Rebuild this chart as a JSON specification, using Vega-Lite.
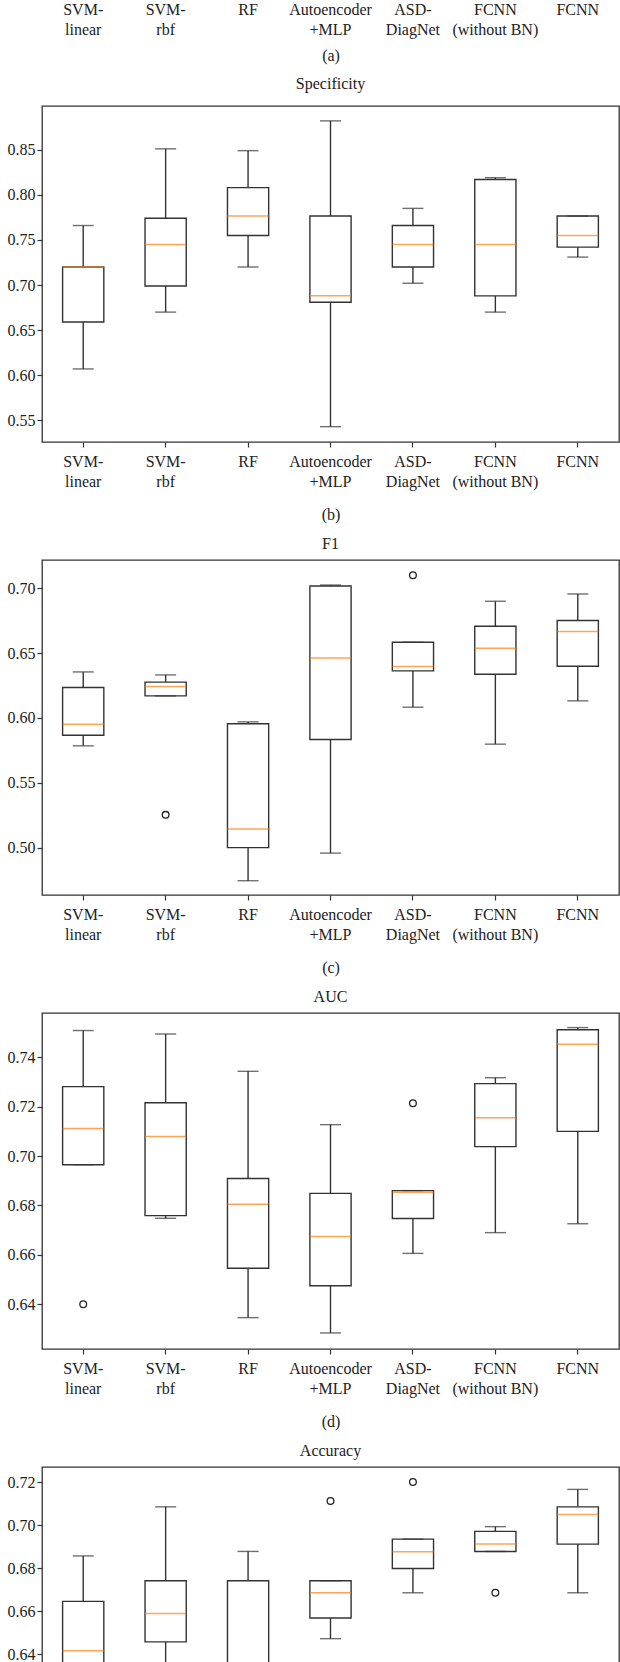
{
  "$schema": "https://vega.github.io/schema/vega-lite/v6.json",
  "padding": {"left": 6, "top": 0, "right": 0, "bottom": 0},
  "background": "white",
  "datasets": {
    "boxes": [
      {"metric": "Specificity", "method": "SVM-linear", "lower": 0.607, "q1": 0.659, "median": 0.720, "q3": 0.720, "upper": 0.766},
      {"metric": "Specificity", "method": "SVM-rbf", "lower": 0.670, "q1": 0.699, "median": 0.745, "q3": 0.774, "upper": 0.851},
      {"metric": "Specificity", "method": "RF", "lower": 0.720, "q1": 0.755, "median": 0.7765, "q3": 0.808, "upper": 0.849},
      {"metric": "Specificity", "method": "Autoencoder+MLP", "lower": 0.543, "q1": 0.681, "median": 0.688, "q3": 0.7765, "upper": 0.882},
      {"metric": "Specificity", "method": "ASD-DiagNet", "lower": 0.702, "q1": 0.720, "median": 0.745, "q3": 0.766, "upper": 0.785},
      {"metric": "Specificity", "method": "FCNN (without BN)", "lower": 0.670, "q1": 0.688, "median": 0.745, "q3": 0.817, "upper": 0.819},
      {"metric": "Specificity", "method": "FCNN", "lower": 0.731, "q1": 0.742, "median": 0.755, "q3": 0.7765, "upper": 0.7765},
      {"metric": "F1", "method": "SVM-linear", "lower": 0.5785, "q1": 0.5867, "median": 0.5952, "q3": 0.6235, "upper": 0.6355},
      {"metric": "F1", "method": "SVM-rbf", "lower": 0.617, "q1": 0.617, "median": 0.6243, "q3": 0.6276, "upper": 0.6332},
      {"metric": "F1", "method": "RF", "lower": 0.4745, "q1": 0.500, "median": 0.5143, "q3": 0.5955, "upper": 0.597},
      {"metric": "F1", "method": "Autoencoder+MLP", "lower": 0.4958, "q1": 0.5834, "median": 0.6463, "q3": 0.7018, "upper": 0.7025},
      {"metric": "F1", "method": "ASD-DiagNet", "lower": 0.6083, "q1": 0.6363, "median": 0.6397, "q3": 0.6584, "upper": 0.6584},
      {"metric": "F1", "method": "FCNN (without BN)", "lower": 0.5798, "q1": 0.6337, "median": 0.6538, "q3": 0.6707, "upper": 0.690},
      {"metric": "F1", "method": "FCNN", "lower": 0.6132, "q1": 0.6399, "median": 0.6666, "q3": 0.6751, "upper": 0.6956},
      {"metric": "AUC", "method": "SVM-linear", "lower": 0.6965, "q1": 0.6965, "median": 0.7111, "q3": 0.7281, "upper": 0.7508},
      {"metric": "AUC", "method": "SVM-rbf", "lower": 0.6748, "q1": 0.6759, "median": 0.7079, "q3": 0.7216, "upper": 0.7494},
      {"metric": "AUC", "method": "RF", "lower": 0.6346, "q1": 0.6546, "median": 0.6805, "q3": 0.6909, "upper": 0.7343},
      {"metric": "AUC", "method": "Autoencoder+MLP", "lower": 0.6284, "q1": 0.6475, "median": 0.6674, "q3": 0.6849, "upper": 0.7127},
      {"metric": "AUC", "method": "ASD-DiagNet", "lower": 0.6606, "q1": 0.6747, "median": 0.6853, "q3": 0.6860, "upper": 0.6860},
      {"metric": "AUC", "method": "FCNN (without BN)", "lower": 0.669, "q1": 0.7038, "median": 0.7155, "q3": 0.7293, "upper": 0.7317},
      {"metric": "AUC", "method": "FCNN", "lower": 0.6726, "q1": 0.710, "median": 0.7453, "q3": 0.7511, "upper": 0.752},
      {"metric": "Accuracy", "method": "SVM-linear", "lower": 0.604, "q1": 0.625, "median": 0.6417, "q3": 0.6646, "upper": 0.6857},
      {"metric": "Accuracy", "method": "SVM-rbf", "lower": 0.622, "q1": 0.6458, "median": 0.659, "q3": 0.6742, "upper": 0.7085},
      {"metric": "Accuracy", "method": "RF", "lower": 0.578, "q1": 0.615, "median": 0.633, "q3": 0.6742, "upper": 0.6878},
      {"metric": "Accuracy", "method": "Autoencoder+MLP", "lower": 0.6473, "q1": 0.6569, "median": 0.6686, "q3": 0.6742, "upper": 0.6742},
      {"metric": "Accuracy", "method": "ASD-DiagNet", "lower": 0.6686, "q1": 0.6799, "median": 0.6877, "q3": 0.6935, "upper": 0.6935},
      {"metric": "Accuracy", "method": "FCNN (without BN)", "lower": 0.6878, "q1": 0.6878, "median": 0.6912, "q3": 0.6971, "upper": 0.6993},
      {"metric": "Accuracy", "method": "FCNN", "lower": 0.6686, "q1": 0.6912, "median": 0.705, "q3": 0.7085, "upper": 0.7166}
    ],
    "outliers": [
      {"metric": "F1", "method": "SVM-rbf", "value": 0.5253},
      {"metric": "F1", "method": "ASD-DiagNet", "value": 0.710},
      {"metric": "AUC", "method": "SVM-linear", "value": 0.640},
      {"metric": "AUC", "method": "ASD-DiagNet", "value": 0.7214},
      {"metric": "Accuracy", "method": "Autoencoder+MLP", "value": 0.7112},
      {"metric": "Accuracy", "method": "ASD-DiagNet", "value": 0.720},
      {"metric": "Accuracy", "method": "FCNN (without BN)", "value": 0.6686}
    ]
  },
  "vconcat": [
    {
      "width": 577, "height": 1,
      "view": {"stroke": null},
      "data": {"name": "boxes"},
      "transform": [{"filter": "datum.metric == 'Specificity'"}],
      "mark": {"type": "tick", "opacity": 0},
      "encoding": {
        "x": {"field": "method", "type": "nominal",
          "scale": {"type": "band", "domain": ["SVM-linear", "SVM-rbf", "RF", "Autoencoder+MLP", "ASD-DiagNet", "FCNN (without BN)", "FCNN"], "paddingInner": 0, "paddingOuter": 0},
          "axis": {"title": "(a)", "titlePadding": 10, "ticks": false, "labelPadding": 0,
            "labelExpr": "datum.value=='SVM-linear'?['SVM-','linear']:datum.value=='SVM-rbf'?['SVM-','rbf']:datum.value=='Autoencoder+MLP'?['Autoencoder','+MLP']:datum.value=='ASD-DiagNet'?['ASD-','DiagNet']:datum.value=='FCNN (without BN)'?['FCNN','(without BN)']:datum.value"}}
      }
    },
    {
      "title": {"text": "Specificity", "offset": 14},
      "width": 577, "height": 336,
      "data": {"name": "boxes"},
      "transform": [{"filter": "datum.metric == 'Specificity'"}],
      "encoding": {
        "x": {"field": "method", "type": "nominal",
          "scale": {"type": "band", "domain": ["SVM-linear", "SVM-rbf", "RF", "Autoencoder+MLP", "ASD-DiagNet", "FCNN (without BN)", "FCNN"], "paddingInner": 0, "paddingOuter": 0},
          "axis": {"title": "(b)",
            "labelExpr": "datum.value=='SVM-linear'?['SVM-','linear']:datum.value=='SVM-rbf'?['SVM-','rbf']:datum.value=='Autoencoder+MLP'?['Autoencoder','+MLP']:datum.value=='ASD-DiagNet'?['ASD-','DiagNet']:datum.value=='FCNN (without BN)'?['FCNN','(without BN)']:datum.value"}}
      },
      "layer": [
        {"mark": {"type": "rule", "color": "#333", "strokeWidth": 1.4},
         "encoding": {"y": {"field": "lower", "type": "quantitative", "scale": {"domain": [0.526, 0.8985], "nice": false, "zero": false}, "axis": {"title": null, "values": [0.55, 0.6, 0.65, 0.7, 0.75, 0.8, 0.85], "format": ".2f"}}, "y2": {"field": "q1"}}},
        {"mark": {"type": "rule", "color": "#333", "strokeWidth": 1.4},
         "encoding": {"y": {"field": "q3", "type": "quantitative", "scale": {"domain": [0.526, 0.8985], "nice": false, "zero": false}, "axis": {"title": null, "values": [0.55, 0.6, 0.65, 0.7, 0.75, 0.8, 0.85], "format": ".2f"}}, "y2": {"field": "upper"}}},
        {"mark": {"type": "bar", "fill": "white", "stroke": "#333", "strokeWidth": 1.4, "width": {"band": 0.5}},
         "encoding": {"y": {"field": "q1", "type": "quantitative", "scale": {"domain": [0.526, 0.8985], "nice": false, "zero": false}, "axis": {"title": null, "values": [0.55, 0.6, 0.65, 0.7, 0.75, 0.8, 0.85], "format": ".2f"}}, "y2": {"field": "q3"}}},
        {"mark": {"type": "tick", "color": "#333", "size": 21, "thickness": 1.4},
         "encoding": {"y": {"field": "lower", "type": "quantitative", "scale": {"domain": [0.526, 0.8985], "nice": false, "zero": false}, "axis": {"title": null, "values": [0.55, 0.6, 0.65, 0.7, 0.75, 0.8, 0.85], "format": ".2f"}}}},
        {"mark": {"type": "tick", "color": "#333", "size": 21, "thickness": 1.4},
         "encoding": {"y": {"field": "upper", "type": "quantitative", "scale": {"domain": [0.526, 0.8985], "nice": false, "zero": false}, "axis": {"title": null, "values": [0.55, 0.6, 0.65, 0.7, 0.75, 0.8, 0.85], "format": ".2f"}}}},
        {"mark": {"type": "tick", "color": "#ff7f0e", "size": 41, "thickness": 1.5},
         "encoding": {"y": {"field": "median", "type": "quantitative", "scale": {"domain": [0.526, 0.8985], "nice": false, "zero": false}, "axis": {"title": null, "values": [0.55, 0.6, 0.65, 0.7, 0.75, 0.8, 0.85], "format": ".2f"}}}}
      ]
    },
    {
      "title": "F1",
      "width": 577, "height": 335,
      "data": {"name": "boxes"},
      "transform": [{"filter": "datum.metric == 'F1'"}],
      "encoding": {
        "x": {"field": "method", "type": "nominal",
          "scale": {"type": "band", "domain": ["SVM-linear", "SVM-rbf", "RF", "Autoencoder+MLP", "ASD-DiagNet", "FCNN (without BN)", "FCNN"], "paddingInner": 0, "paddingOuter": 0},
          "axis": {"title": "(c)",
            "labelExpr": "datum.value=='SVM-linear'?['SVM-','linear']:datum.value=='SVM-rbf'?['SVM-','rbf']:datum.value=='Autoencoder+MLP'?['Autoencoder','+MLP']:datum.value=='ASD-DiagNet'?['ASD-','DiagNet']:datum.value=='FCNN (without BN)'?['FCNN','(without BN)']:datum.value"}}
      },
      "layer": [
        {"mark": {"type": "rule", "color": "#333", "strokeWidth": 1.4},
         "encoding": {"y": {"field": "lower", "type": "quantitative", "scale": {"domain": [0.4635, 0.7218], "nice": false, "zero": false}, "axis": {"title": null, "values": [0.5, 0.55, 0.6, 0.65, 0.7], "format": ".2f"}}, "y2": {"field": "q1"}}},
        {"mark": {"type": "rule", "color": "#333", "strokeWidth": 1.4},
         "encoding": {"y": {"field": "q3", "type": "quantitative", "scale": {"domain": [0.4635, 0.7218], "nice": false, "zero": false}, "axis": {"title": null, "values": [0.5, 0.55, 0.6, 0.65, 0.7], "format": ".2f"}}, "y2": {"field": "upper"}}},
        {"mark": {"type": "bar", "fill": "white", "stroke": "#333", "strokeWidth": 1.4, "width": {"band": 0.5}},
         "encoding": {"y": {"field": "q1", "type": "quantitative", "scale": {"domain": [0.4635, 0.7218], "nice": false, "zero": false}, "axis": {"title": null, "values": [0.5, 0.55, 0.6, 0.65, 0.7], "format": ".2f"}}, "y2": {"field": "q3"}}},
        {"mark": {"type": "tick", "color": "#333", "size": 21, "thickness": 1.4},
         "encoding": {"y": {"field": "lower", "type": "quantitative", "scale": {"domain": [0.4635, 0.7218], "nice": false, "zero": false}, "axis": {"title": null, "values": [0.5, 0.55, 0.6, 0.65, 0.7], "format": ".2f"}}}},
        {"mark": {"type": "tick", "color": "#333", "size": 21, "thickness": 1.4},
         "encoding": {"y": {"field": "upper", "type": "quantitative", "scale": {"domain": [0.4635, 0.7218], "nice": false, "zero": false}, "axis": {"title": null, "values": [0.5, 0.55, 0.6, 0.65, 0.7], "format": ".2f"}}}},
        {"mark": {"type": "tick", "color": "#ff7f0e", "size": 41, "thickness": 1.5},
         "encoding": {"y": {"field": "median", "type": "quantitative", "scale": {"domain": [0.4635, 0.7218], "nice": false, "zero": false}, "axis": {"title": null, "values": [0.5, 0.55, 0.6, 0.65, 0.7], "format": ".2f"}}}},
        {"data": {"name": "outliers"},
         "transform": [{"filter": "datum.metric == 'F1'"}],
         "mark": {"type": "point", "shape": "circle", "filled": false, "size": 45, "color": "#222", "strokeWidth": 1.3, "opacity": 1},
         "encoding": {"y": {"field": "value", "type": "quantitative", "scale": {"domain": [0.4635, 0.7218], "nice": false, "zero": false}, "axis": {"title": null, "values": [0.5, 0.55, 0.6, 0.65, 0.7], "format": ".2f"}}}}
      ]
    },
    {
      "title": "AUC",
      "width": 577, "height": 336,
      "data": {"name": "boxes"},
      "transform": [{"filter": "datum.metric == 'AUC'"}],
      "encoding": {
        "x": {"field": "method", "type": "nominal",
          "scale": {"type": "band", "domain": ["SVM-linear", "SVM-rbf", "RF", "Autoencoder+MLP", "ASD-DiagNet", "FCNN (without BN)", "FCNN"], "paddingInner": 0, "paddingOuter": 0},
          "axis": {"title": "(d)",
            "labelExpr": "datum.value=='SVM-linear'?['SVM-','linear']:datum.value=='SVM-rbf'?['SVM-','rbf']:datum.value=='Autoencoder+MLP'?['Autoencoder','+MLP']:datum.value=='ASD-DiagNet'?['ASD-','DiagNet']:datum.value=='FCNN (without BN)'?['FCNN','(without BN)']:datum.value"}}
      },
      "layer": [
        {"mark": {"type": "rule", "color": "#333", "strokeWidth": 1.4},
         "encoding": {"y": {"field": "lower", "type": "quantitative", "scale": {"domain": [0.6219, 0.7579], "nice": false, "zero": false}, "axis": {"title": null, "values": [0.64, 0.66, 0.68, 0.7, 0.72, 0.74], "format": ".2f"}}, "y2": {"field": "q1"}}},
        {"mark": {"type": "rule", "color": "#333", "strokeWidth": 1.4},
         "encoding": {"y": {"field": "q3", "type": "quantitative", "scale": {"domain": [0.6219, 0.7579], "nice": false, "zero": false}, "axis": {"title": null, "values": [0.64, 0.66, 0.68, 0.7, 0.72, 0.74], "format": ".2f"}}, "y2": {"field": "upper"}}},
        {"mark": {"type": "bar", "fill": "white", "stroke": "#333", "strokeWidth": 1.4, "width": {"band": 0.5}},
         "encoding": {"y": {"field": "q1", "type": "quantitative", "scale": {"domain": [0.6219, 0.7579], "nice": false, "zero": false}, "axis": {"title": null, "values": [0.64, 0.66, 0.68, 0.7, 0.72, 0.74], "format": ".2f"}}, "y2": {"field": "q3"}}},
        {"mark": {"type": "tick", "color": "#333", "size": 21, "thickness": 1.4},
         "encoding": {"y": {"field": "lower", "type": "quantitative", "scale": {"domain": [0.6219, 0.7579], "nice": false, "zero": false}, "axis": {"title": null, "values": [0.64, 0.66, 0.68, 0.7, 0.72, 0.74], "format": ".2f"}}}},
        {"mark": {"type": "tick", "color": "#333", "size": 21, "thickness": 1.4},
         "encoding": {"y": {"field": "upper", "type": "quantitative", "scale": {"domain": [0.6219, 0.7579], "nice": false, "zero": false}, "axis": {"title": null, "values": [0.64, 0.66, 0.68, 0.7, 0.72, 0.74], "format": ".2f"}}}},
        {"mark": {"type": "tick", "color": "#ff7f0e", "size": 41, "thickness": 1.5},
         "encoding": {"y": {"field": "median", "type": "quantitative", "scale": {"domain": [0.6219, 0.7579], "nice": false, "zero": false}, "axis": {"title": null, "values": [0.64, 0.66, 0.68, 0.7, 0.72, 0.74], "format": ".2f"}}}},
        {"data": {"name": "outliers"},
         "transform": [{"filter": "datum.metric == 'AUC'"}],
         "mark": {"type": "point", "shape": "circle", "filled": false, "size": 45, "color": "#222", "strokeWidth": 1.3, "opacity": 1},
         "encoding": {"y": {"field": "value", "type": "quantitative", "scale": {"domain": [0.6219, 0.7579], "nice": false, "zero": false}, "axis": {"title": null, "values": [0.64, 0.66, 0.68, 0.7, 0.72, 0.74], "format": ".2f"}}}}
      ]
    },
    {
      "title": "Accuracy",
      "width": 577, "height": 336,
      "data": {"name": "boxes"},
      "transform": [{"filter": "datum.metric == 'Accuracy'"}],
      "encoding": {
        "x": {"field": "method", "type": "nominal",
          "scale": {"type": "band", "domain": ["SVM-linear", "SVM-rbf", "RF", "Autoencoder+MLP", "ASD-DiagNet", "FCNN (without BN)", "FCNN"], "paddingInner": 0, "paddingOuter": 0},
          "axis": {"title": "(e)",
            "labelExpr": "datum.value=='SVM-linear'?['SVM-','linear']:datum.value=='SVM-rbf'?['SVM-','rbf']:datum.value=='Autoencoder+MLP'?['Autoencoder','+MLP']:datum.value=='ASD-DiagNet'?['ASD-','DiagNet']:datum.value=='FCNN (without BN)'?['FCNN','(without BN)']:datum.value"}}
      },
      "layer": [
        {"mark": {"type": "rule", "color": "#333", "strokeWidth": 1.4},
         "encoding": {"y": {"field": "lower", "type": "quantitative", "scale": {"domain": [0.571, 0.727], "nice": false, "zero": false}, "axis": {"title": null, "values": [0.58, 0.6, 0.62, 0.64, 0.66, 0.68, 0.7, 0.72], "format": ".2f"}}, "y2": {"field": "q1"}}},
        {"mark": {"type": "rule", "color": "#333", "strokeWidth": 1.4},
         "encoding": {"y": {"field": "q3", "type": "quantitative", "scale": {"domain": [0.571, 0.727], "nice": false, "zero": false}, "axis": {"title": null, "values": [0.58, 0.6, 0.62, 0.64, 0.66, 0.68, 0.7, 0.72], "format": ".2f"}}, "y2": {"field": "upper"}}},
        {"mark": {"type": "bar", "fill": "white", "stroke": "#333", "strokeWidth": 1.4, "width": {"band": 0.5}},
         "encoding": {"y": {"field": "q1", "type": "quantitative", "scale": {"domain": [0.571, 0.727], "nice": false, "zero": false}, "axis": {"title": null, "values": [0.58, 0.6, 0.62, 0.64, 0.66, 0.68, 0.7, 0.72], "format": ".2f"}}, "y2": {"field": "q3"}}},
        {"mark": {"type": "tick", "color": "#333", "size": 21, "thickness": 1.4},
         "encoding": {"y": {"field": "lower", "type": "quantitative", "scale": {"domain": [0.571, 0.727], "nice": false, "zero": false}, "axis": {"title": null, "values": [0.58, 0.6, 0.62, 0.64, 0.66, 0.68, 0.7, 0.72], "format": ".2f"}}}},
        {"mark": {"type": "tick", "color": "#333", "size": 21, "thickness": 1.4},
         "encoding": {"y": {"field": "upper", "type": "quantitative", "scale": {"domain": [0.571, 0.727], "nice": false, "zero": false}, "axis": {"title": null, "values": [0.58, 0.6, 0.62, 0.64, 0.66, 0.68, 0.7, 0.72], "format": ".2f"}}}},
        {"mark": {"type": "tick", "color": "#ff7f0e", "size": 41, "thickness": 1.5},
         "encoding": {"y": {"field": "median", "type": "quantitative", "scale": {"domain": [0.571, 0.727], "nice": false, "zero": false}, "axis": {"title": null, "values": [0.58, 0.6, 0.62, 0.64, 0.66, 0.68, 0.7, 0.72], "format": ".2f"}}}},
        {"data": {"name": "outliers"},
         "transform": [{"filter": "datum.metric == 'Accuracy'"}],
         "mark": {"type": "point", "shape": "circle", "filled": false, "size": 45, "color": "#222", "strokeWidth": 1.3, "opacity": 1},
         "encoding": {"y": {"field": "value", "type": "quantitative", "scale": {"domain": [0.571, 0.727], "nice": false, "zero": false}, "axis": {"title": null, "values": [0.58, 0.6, 0.62, 0.64, 0.66, 0.68, 0.7, 0.72], "format": ".2f"}}}}
      ]
    }
  ],
  "spacing": 12,
  "config": {
    "font": "Liberation Serif",
    "view": {"stroke": "#333", "strokeWidth": 1.3},
    "axis": {"domain": false, "grid": false, "tickColor": "#333", "tickSize": 5, "tickWidth": 1.2,
      "labelFont": "Liberation Serif", "labelFontSize": 16, "labelColor": "#222",
      "titleFont": "Liberation Serif", "titleFontSize": 16, "titleFontWeight": "normal", "titleColor": "#222"},
    "axisX": {"labelAngle": 0, "labelPadding": 6, "labelLineHeight": 20, "titlePadding": 17, "labelBaseline": "top", "labelOverlap": false, "labelBound": false},
    "axisY": {"labelPadding": 2},
    "title": {"font": "Liberation Serif", "fontSize": 16, "fontWeight": "normal", "color": "#222", "offset": 8}
  }
}
